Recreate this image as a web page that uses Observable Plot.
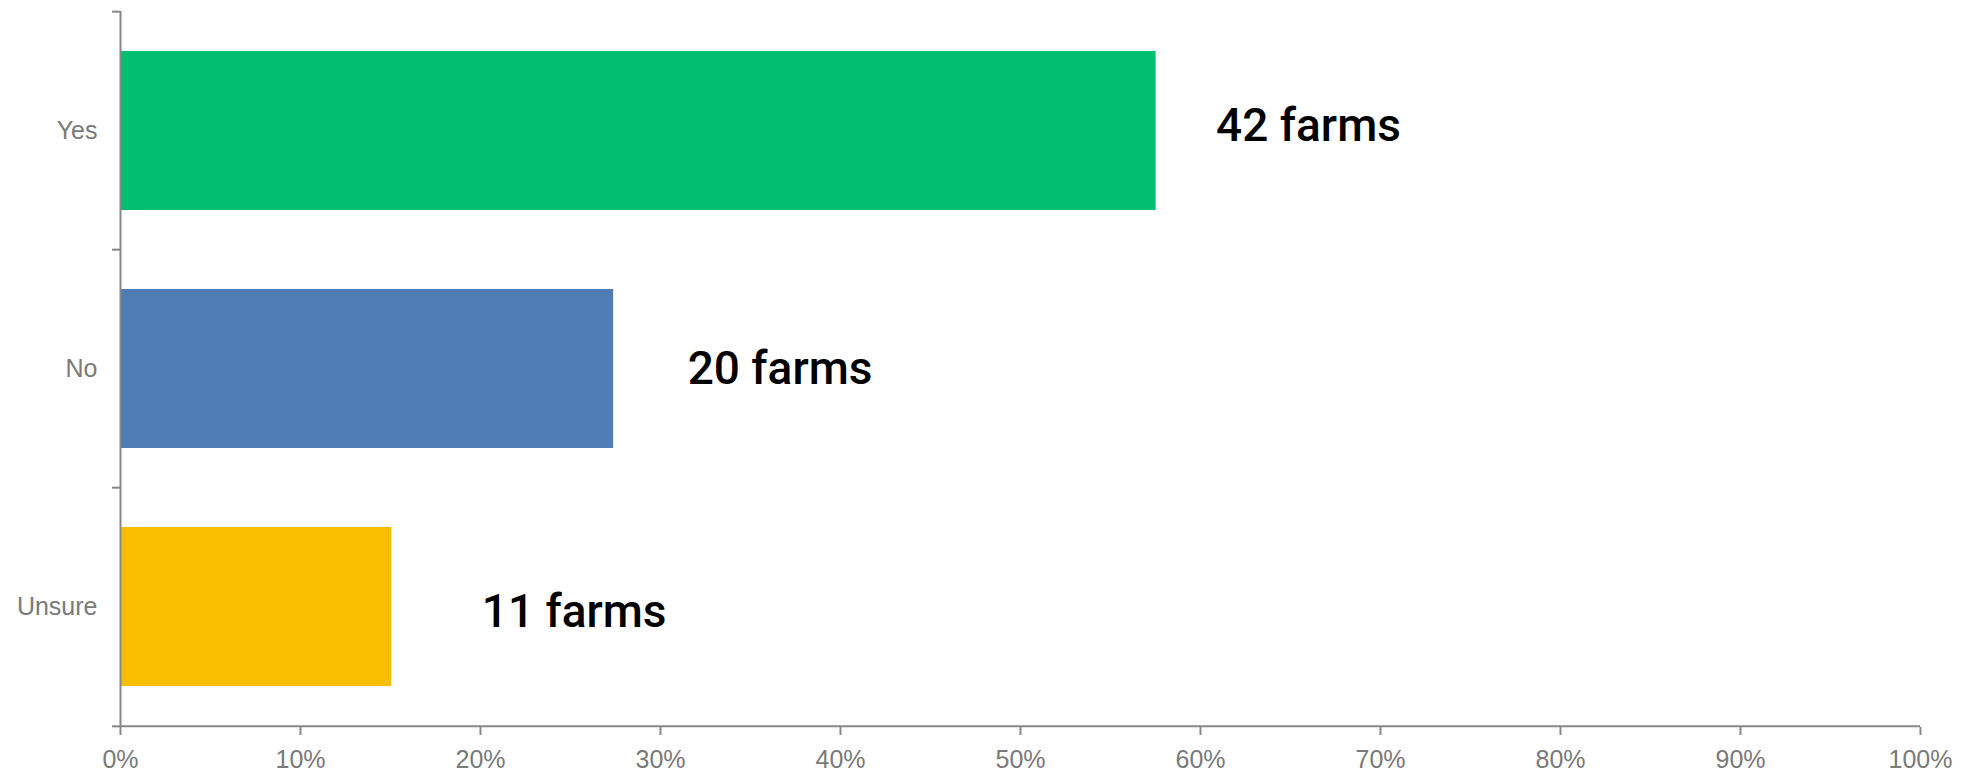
<!DOCTYPE html>
<html>
<head>
<meta charset="utf-8">
<script src="https://cdn.jsdelivr.net/npm/d3@7"></script>
<script src="https://cdn.jsdelivr.net/npm/@observablehq/plot@0.6"></script>
<style>
  html, body { margin: 0; padding: 0; background: #fff; }
  #chart svg { display: block; }
</style>
</head>
<body>
<div id="chart"></div>
<script>
// Data
const categories = ["Yes", "No", "Unsure"];
const farmCounts = [42, 20, 11];
const labels = ["42 farms", "20 farms", "11 farms"];
const barColors = ["#00BF6F", "#507CB6", "#F9BE00"];
const xTicks = [0, 0.1, 0.2, 0.3, 0.4, 0.5, 0.6, 0.7, 0.8, 0.9, 1.0];

const total = d3.sum(farmCounts);
const rows = categories.map((c, i) => ({
  cat: c,
  share: farmCounts[i] / total,
  label: labels[i],
  color: barColors[i]
}));

// Layout
const W = 1972, H = 773;
const mTop = 11, mBottom = 46, mLeft = 120, mRight = 52;
const paddingInner = 0.33, paddingOuter = 0.165;
const step = (H - mTop - mBottom) / (categories.length - paddingInner + 2 * paddingOuter);
const axisGray = "#878787";
const textGray = "#7a7a7a";
const labelDx = [60, 74, 90];
const labelDy = [-5, 0, 5];

const labelMarks = rows.map((r, i) =>
  Plot.text([r], {
    x: "share", y: "cat", text: "label",
    dx: labelDx[i], dy: labelDy[i],
    textAnchor: "start",
    fontSize: 46, fontWeight: 500, fill: "#000",
    fontFamily: "Roboto, Liberation Sans, Arial, sans-serif"
  })
);

const chart = Plot.plot({
  width: W,
  height: H,
  marginTop: mTop,
  marginBottom: mBottom,
  marginLeft: mLeft,
  marginRight: mRight,
  style: { fontFamily: "Liberation Sans, Arial, sans-serif", background: "#fff", overflow: "visible" },
  x: { domain: [0, 1], axis: null, label: null },
  y: { domain: categories, paddingInner, paddingOuter, axis: null, label: null },
  marks: [
    Plot.barX(rows, { x: "share", y: "cat", fill: "color" }),
    // y axis line
    Plot.ruleX([0], { stroke: axisGray, strokeWidth: 2 }),
    // y labels
    Plot.axisY({ label: null, tickSize: 0, tickPadding: 23, fontSize: 25, fill: textGray, stroke: null }),
    // y ticks at band boundaries
    Plot.axisY({ label: null, text: null, tickSize: 8, dy: -step / 2, stroke: axisGray, strokeWidth: 2 }),
    Plot.axisY({ label: null, ticks: ["Unsure"], text: null, tickSize: 8, dy: step / 2, stroke: axisGray, strokeWidth: 2 }),
    // x axis line
    Plot.ruleY([0], { y: () => "Unsure", dy: step / 2, x1: 0, x2: 1, stroke: axisGray, strokeWidth: 2 }),
    Plot.axisX({ label: null, ticks: xTicks, tickFormat: d3.format(".0%"), tickSize: 8, tickPadding: 15, fontSize: 25, fill: textGray, stroke: axisGray, strokeWidth: 2, anchor: "bottom" }),
    ...labelMarks
  ]
});

document.getElementById("chart").appendChild(chart);
</script>
</body>
</html>
